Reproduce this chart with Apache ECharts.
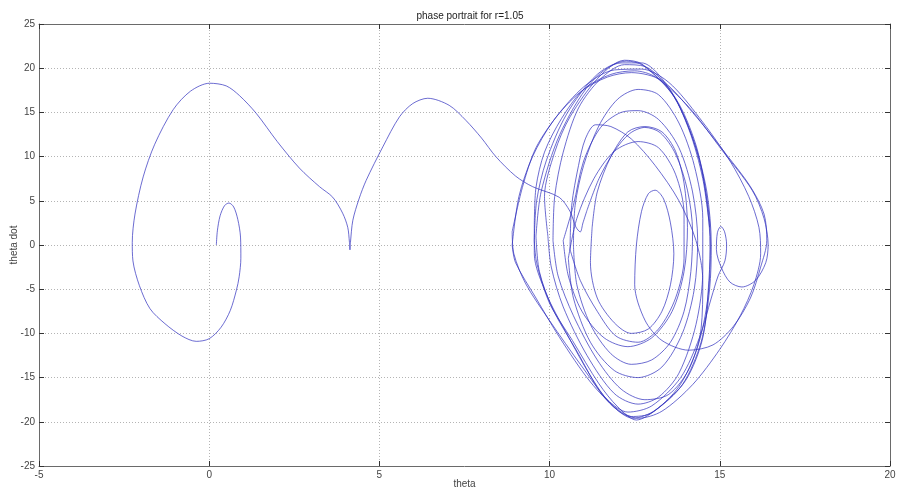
<!DOCTYPE html>
<html>
<head>
<meta charset="utf-8">
<title>phase portrait for r=1.05</title>
<script src="https://cdn.jsdelivr.net/npm/echarts@6/dist/echarts.min.js"></script>
<style>
  html, body { margin: 0; padding: 0; background: #fff; }
  #chart { width: 897px; height: 488px; }
</style>
</head>
<body>
<div id="chart"></div>
<script>
// Axis settings
const xRange = [-5, 20];
const yRange = [-25, 25];
const xStep = 5;
const yStep = 5;

// Trajectory in the (theta, theta dot) plane, as [theta, thetaDot] samples.
// Transient: inner spiral and first swing around the left well.
const transientSpiral = [
  [0.21, 0.0], [0.24, 1.6], [0.32, 3.3], [0.45, 4.45], [0.58, 4.75], [0.72, 4.3],
  [0.84, 2.9], [0.92, 0.9], [0.93, -1.5], [0.88, -3.6], [0.8, -5.1], [0.62, -7.4],
  [0.35, -9.3], [0.0, -10.6], [-0.38, -10.9], [-0.8, -10.3], [-1.3, -8.9], [-1.74, -7.2],
  [-2.05, -4.6], [-2.24, -1.8], [-2.26, 0.3], [-2.18, 3.5], [-1.94, 7.7], [-1.6, 11.4],
  [-1.06, 15.3], [-0.55, 17.4], [0.01, 18.3], [0.5, 18.0], [0.89, 16.9], [1.38, 14.9],
  [2.0, 11.7], [2.65, 8.7], [3.24, 6.6], [3.63, 5.4], [3.92, 3.6], [4.07, 2.0],
  [4.12, 0.3], [4.135, -0.55]
];
// Transient: cusp near theta = 4 and the swing over to the right.
const transientSwing = [
  [4.15, 0.3], [4.22, 2.8], [4.4, 5.2], [4.61, 7.3], [5.1, 11.1], [5.59, 14.5],
  [5.98, 16.0], [6.42, 16.6], [7.05, 15.8], [7.54, 14.1], [8.0, 12.1], [8.42, 10.0],
  [9.0, 7.8], [9.5, 6.6], [10.28, 5.4], [10.6, 3.8], [10.77, 2.05], [10.9, 1.48],
  [10.98, 2.5], [11.1, 3.94]
];
// Chaotic rotations around theta ~ 12.5
const loop01 = [
  [11.45, 7.5], [11.9, 10.6], [12.35, 12.6], [12.8, 13.3], [13.25, 12.7], [13.7, 10.3],
  [14.05, 6.2], [14.2, 1.5], [14.15, -3], [13.95, -7.5], [13.55, -11], [13.0, -13],
  [12.4, -13.5], [11.8, -12.3], [11.2, -9], [10.8, -4.5], [10.7, 0]
];
const loop02 = [
  [10.75, 4.5], [11.0, 9], [11.45, 13.5], [12.0, 16.5], [12.6, 17.6], [13.2, 17.0],
  [13.8, 13.8], [14.25, 9], [14.5, 3], [14.5, -3], [14.3, -9], [13.8, -14.5],
  [13.2, -17.2], [12.6, -18], [11.9, -16.8], [11.1, -12.5], [10.4, -7], [10.05, -2.5],
  [9.95, 1]
];
const loop03 = [
  [9.85, 5.5], [10.15, 10.5], [10.6, 14.5], [11.45, 19.0], [12.2, 20.9], [12.7, 20.5],
  [13.6, 17.1], [14.19, 12.2], [14.55, 7.0], [14.72, 1.0], [14.68, -4], [14.5, -10.5],
  [14.0, -15.3], [13.2, -18.4], [12.55, -19.8], [12.0, -18.3], [11.45, -15.7], [10.67, -10.8],
  [10.0, -6.6], [9.62, -2], [9.55, 0.5]
];
const loop04 = [
  [9.62, 5], [9.9, 9.5], [10.5, 14.8], [11.4, 19.3], [12.25, 20.8], [12.75, 20.3],
  [13.65, 16.8], [14.25, 11.6], [14.62, 6], [14.75, 0], [14.7, -5], [14.45, -11],
  [13.9, -15.8], [13.1, -18.7], [12.45, -19.6], [11.8, -18], [11.2, -14.8], [10.5, -10],
  [9.9, -5.5], [9.55, -1], [9.55, 2]
];
const loop05 = [
  [9.6, 6.5], [9.85, 10.5], [10.35, 14.3], [11.0, 17.6], [11.8, 19.3], [12.5, 19.7],
  [13.11, 19.0], [14.09, 15.6], [15.07, 10.7], [15.95, 6.2], [16.3, 3], [16.42, 0],
  [16.35, -2], [16.05, -4], [15.65, -4.75], [15.3, -4.2], [15.05, -2.6], [14.9, -0.5],
  [14.93, 1.4], [15.03, 2.1], [15.14, 1.5], [15.2, 0], [15.15, -1.8], [14.95, -3.5],
  [14.75, -6], [14.4, -10.5], [13.85, -15], [13.0, -18.2], [12.3, -18.9], [11.7, -17.5],
  [10.96, -13.8], [9.99, -8.5], [9.3, -4.4], [8.95, -1], [8.9, 1.5]
];
const loop06 = [
  [9.2, 6.5], [9.6, 11], [10.3, 15], [11.1, 18.2], [11.9, 19.8], [12.7, 19.9],
  [13.5, 18.4], [14.4, 14.4], [15.3, 9.5], [15.85, 5.5], [16.15, 2], [16.2, -1],
  [16.0, -4.5], [15.6, -8], [15.0, -11.8], [14.2, -15.8], [13.3, -18.8], [12.6, -19.6],
  [12.0, -18.6], [11.2, -15.5], [10.3, -10.5], [9.6, -6], [9.0, -2], [8.9, 0]
];
const loop07 = [
  [9.1, 5.5], [9.5, 10], [10.1, 14], [10.9, 17.3], [11.7, 19], [12.4, 19.5],
  [13.3, 18.6], [14.2, 15.0], [15.2, 10.2], [15.9, 6.6], [16.3, 3.5], [16.38, 0.5],
  [16.2, -2.5], [15.9, -6], [15.4, -9.2], [14.8, -11.3], [14.09, -11.9], [13.3, -10.8],
  [12.8, -8.5], [12.5, -4.5], [12.55, 0], [12.7, 3.8], [12.9, 5.8], [13.1, 6.2],
  [13.35, 5.2], [13.55, 2.5], [13.65, -1], [13.55, -4.5], [13.3, -7.5], [12.9, -9.5],
  [12.4, -10], [11.9, -8.8], [11.4, -6], [11.2, -2], [11.25, 2]
];
const loop08 = [
  [11.4, 6], [11.8, 10], [12.3, 12.8], [12.8, 13.4], [13.3, 12.8], [13.7, 10.6],
  [13.95, 7], [14.05, 2], [13.95, -3], [13.6, -7.5], [13.0, -10.5], [12.3, -11.5],
  [11.6, -10.5], [10.95, -7.5], [10.55, -3.5], [10.4, 0.5]
];
const loop09 = [
  [10.7, 4.5], [11.0, 9.5], [11.5, 13.3], [12.1, 15.0], [12.6, 15.2], [13.2, 14.2],
  [13.8, 11], [14.2, 6], [14.35, 0.5], [14.25, -5], [13.9, -10], [13.3, -13.8],
  [12.6, -15], [11.9, -14.2], [11.2, -11], [10.7, -6], [10.55, -1.5]
];
const loop10 = [
  [10.8, 3], [11.3, 7.5], [11.9, 10.6], [12.6, 11.7], [13.2, 11], [13.7, 8],
  [13.95, 3.5], [13.95, -1.5], [13.7, -6], [13.2, -9.5], [12.6, -11], [11.95, -10.3],
  [11.4, -7.5], [10.9, -4], [10.6, -0.5]
];
const loop11 = [
  [10.65, 4.5], [10.85, 9], [11.05, 12], [11.35, 13.6], [11.8, 13.4], [12.4, 12.0],
  [13.1, 9], [13.8, 5], [14.3, 0.5], [14.5, -4], [14.45, -9.5], [14.1, -14],
  [13.5, -16.9], [12.8, -17.5], [12.1, -16.3], [11.4, -13], [10.7, -8], [10.25, -3.5],
  [10.1, 0.5]
];
const loop12 = [
  [10.15, 5.5], [10.4, 10.5], [10.85, 15.5], [11.5, 18.8], [12.2, 20.4], [12.8, 20.2],
  [13.7, 16.6], [14.3, 11.3], [14.6, 5.5], [14.72, -0.5], [14.65, -6], [14.35, -11.5],
  [13.8, -16], [13.0, -19.0], [12.4, -19.4], [11.6, -17.2], [10.8, -12], [10.1, -7.3],
  [9.7, -3], [9.6, 1]
];
const loop13 = [
  [9.75, 6], [10.3, 12.5], [11.2, 18.3], [12.1, 20.6], [12.7, 20.6], [13.5, 17.8],
  [14.1, 13], [14.5, 7.5], [14.7, 2]
];

const segments = [
  transientSpiral, transientSwing, loop01, loop02, loop03, loop04, loop05, loop06,
  loop07, loop08, loop09, loop10, loop11, loop12, loop13
];

// Each segment is drawn as its own series, joined to the end of the previous one,
// so that repeated passes over the same orbit build up a darker stroke.
const series = segments.map((seg, i) => {
  const pts = i === 0 ? seg.slice() : [segments[i - 1][segments[i - 1].length - 1]].concat(seg);
  return {
    type: 'line',
    data: pts,
    showSymbol: false,
    smooth: 0.3,
    silent: true,
    lineStyle: { color: 'rgba(45, 45, 190, 0.7)', width: 1 },
    xAxisIndex: 0,
    yAxisIndex: 0,
    animation: false
  };
});

const axisColor = '#6a6a6a';
const labelStyle = { color: '#444', fontSize: 10, fontFamily: 'Arial, "Liberation Sans", sans-serif' };
const gridDots = { show: true, lineStyle: { color: '#b4b4b4', type: [1, 2], width: 1 } };

const chart = echarts.init(document.getElementById('chart'), null, { renderer: 'canvas' });
chart.setOption({
  backgroundColor: '#ffffff',
  animation: false,
  title: {
    text: 'phase portrait for r=1.05',
    left: 465,
    textAlign: 'center',
    top: 6,
    textStyle: { fontSize: 10, fontWeight: 'normal', color: '#222', fontFamily: 'Arial, "Liberation Sans", sans-serif' }
  },
  grid: { left: 39, right: 7, top: 24, bottom: 22, outerBoundsMode: 'none' },
  xAxis: [
    {
      type: 'value', min: xRange[0], max: xRange[1], interval: xStep, position: 'bottom',
      axisLine: { show: true, onZero: false, lineStyle: { color: axisColor, width: 1 } },
      axisTick: { show: true, inside: true, length: 5, lineStyle: { color: '#333' } },
      axisLabel: Object.assign({ margin: 4 }, labelStyle),
      splitLine: gridDots,
      name: 'theta', nameLocation: 'middle', nameGap: 13, nameMoveOverlap: false,
      nameTextStyle: labelStyle
    },
    {
      type: 'value', min: xRange[0], max: xRange[1], interval: xStep, position: 'top',
      axisLine: { show: true, onZero: false, lineStyle: { color: axisColor, width: 1 } },
      axisTick: { show: true, inside: true, length: 5, lineStyle: { color: '#333' } },
      axisLabel: { show: false },
      splitLine: { show: false }
    }
  ],
  yAxis: [
    {
      type: 'value', min: yRange[0], max: yRange[1], interval: yStep, position: 'left',
      axisLine: { show: true, onZero: false, lineStyle: { color: axisColor, width: 1 } },
      axisTick: { show: true, inside: true, length: 5, lineStyle: { color: '#333' } },
      axisLabel: Object.assign({ margin: 4 }, labelStyle),
      splitLine: gridDots,
      name: 'theta dot', nameLocation: 'middle', nameGap: 20, nameMoveOverlap: false,
      nameTextStyle: labelStyle
    },
    {
      type: 'value', min: yRange[0], max: yRange[1], interval: yStep, position: 'right',
      axisLine: { show: true, onZero: false, lineStyle: { color: axisColor, width: 1 } },
      axisTick: { show: true, inside: true, length: 5, lineStyle: { color: '#333' } },
      axisLabel: { show: false },
      splitLine: { show: false }
    }
  ],
  series: series
});
</script>
</body>
</html>
